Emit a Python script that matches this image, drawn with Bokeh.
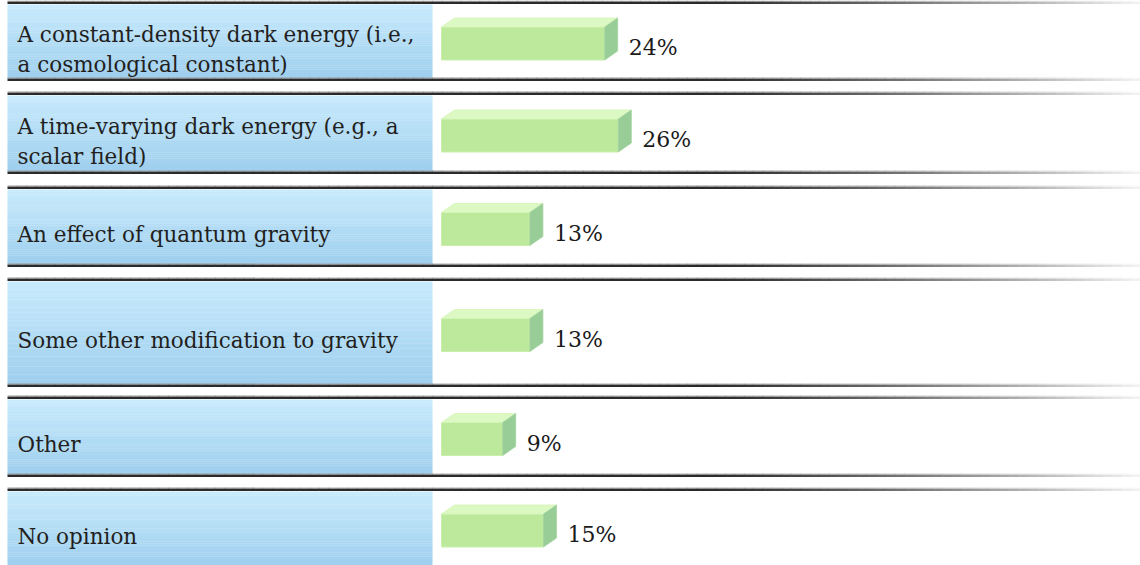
from bokeh.plotting import figure
from bokeh.models import Range1d
from bokeh.embed import file_html
from bokeh.resources import INLINE
from bokeh.core.properties import value
import numpy as np

# ---- data ----
categories = [
    ["A constant-density dark energy (i.e.,", "a cosmological constant)"],
    ["A time-varying dark energy (e.g., a", "scalar field)"],
    ["An effect of quantum gravity"],
    ["Some other modification to gravity"],
    ["Other"],
    ["No opinion"],
]
values = [24, 26, 13, 13, 9, 15]
value_labels = ["24%", "26%", "13%", "13%", "9%", "15%"]

# ---- layout (reference pixel units) ----
W, H = 1140, 565
row_top = [4, 95, 189, 281, 399, 491]
row_bot = [78, 171, 264, 384, 474, 565]
sep_lines = [2, 79, 93, 172, 187, 265, 279, 385, 397, 475, 489]
panel_x0, panel_x1 = 7, 432
bar_x0 = 441
px_per_pct = 6.8
depth_x, depth_y = 13, 9
front_h = 33
FONT = "DejaVu Serif"

def hex2rgb(h):
    h = h.lstrip("#")
    return np.array([int(h[i:i + 2], 16) for i in (0, 2, 4)], dtype=float)

def rgb2hex(c):
    return "#%02x%02x%02x" % tuple(int(round(v)) for v in c)

p = figure(width=W, height=H, output_backend="svg", toolbar_location=None,
           x_range=Range1d(0, W), y_range=Range1d(H, 0), min_border=0,
           background_fill_color="white", border_fill_color="white")
p.extra_x_ranges = {"pct": Range1d((0 - bar_x0) / px_per_pct, (W - bar_x0) / px_per_pct)}
p.axis.visible = False
p.grid.visible = False
p.outline_line_color = None

# ---- label panels with vertical gradient ----
c_top, c_bot = hex2rgb("#c7eafc"), hex2rgb("#9fcfee")
N = 40
L, R, T, B, C = [], [], [], [], []
for t0, b0 in zip(row_top, row_bot):
    edges = np.linspace(t0, b0, N + 1)
    for k in range(N):
        f = k / (N - 1)
        L.append(panel_x0); R.append(panel_x1)
        T.append(edges[k]); B.append(edges[k + 1] + 0.3)
        C.append(rgb2hex(c_top + (c_bot - c_top) * f))
p.quad(left=L, right=R, top=T, bottom=B, fill_color=C, line_color=None)

# ---- separator double lines fading to the right ----
fade_start, fade_end = 700, W
nseg = 120
xs = np.linspace(panel_x0, W, nseg + 1)
mid = (xs[:-1] + xs[1:]) / 2
fr = np.clip((mid - fade_start) / (fade_end - fade_start), 0, 1) ** 1.3
dark, light = hex2rgb("#2a2a2a"), hex2rgb("#f4f4f4")
halo_d, halo_l = hex2rgb("#9a9a9a"), hex2rgb("#fbfbfb")
dark_cols = [rgb2hex(dark + (light - dark) * f) for f in fr]
halo_cols = [rgb2hex(halo_d + (halo_l - halo_d) * f) for f in fr]
for y in sep_lines:
    p.segment(x0=xs[:-1], y0=[y - 1.3] * nseg, x1=xs[1:] + 0.6, y1=[y - 1.3] * nseg,
              line_color=halo_cols, line_width=1.2)
    p.segment(x0=xs[:-1], y0=[y + 0.4] * nseg, x1=xs[1:] + 0.6, y1=[y + 0.4] * nseg,
              line_color=dark_cols, line_width=2.2)

# ---- 3D bars ----
centers = [(t + b) / 2 for t, b in zip(row_top, row_bot)]
dxp = depth_x / px_per_pct
front_top = [c + 2 - front_h / 2 for c in centers]
front_bot = [c + 2 + front_h / 2 for c in centers]
p.quad(left=[0] * len(values), right=values, top=front_top, bottom=front_bot,
       fill_color="#bde99d", line_color="#c9efab", line_width=1, x_range_name="pct")
top_xs, top_ys, side_xs, side_ys = [], [], [], []
for v, ft, fb in zip(values, front_top, front_bot):
    top_xs.append([0, v, v + dxp, dxp])
    top_ys.append([ft, ft, ft - depth_y, ft - depth_y])
    side_xs.append([v, v + dxp, v + dxp, v])
    side_ys.append([ft, ft - depth_y, fb - depth_y, fb])
p.patches(xs=top_xs, ys=top_ys, fill_color="#dcf9c3", line_color="#d3f5b6",
          line_width=0.8, x_range_name="pct")
p.patches(xs=side_xs, ys=side_ys, fill_color="#98cd97", line_color="#a3d3a0",
          line_width=0.8, x_range_name="pct")

# ---- value labels ----
lbl_x = [v + dxp + 11 / px_per_pct for v in values]
lbl_y = [(ft - depth_y + fb) / 2 + 8.5 for ft, fb in zip(front_top, front_bot)]
p.text(x=lbl_x, y=lbl_y, text=value_labels, text_baseline="alphabetic", text_align="left",
       text_font=value(FONT), text_font_size="22px", text_color="#1a1a1a",
       x_range_name="pct")

# ---- category labels ----
tx, ty, tt = [], [], []
line_gap = 30
for lines, c in zip(categories, centers):
    n = len(lines)
    for i, s in enumerate(lines):
        tx.append(17)
        ty.append(c + 7.5 + (i - (n - 1) / 2) * line_gap)
        tt.append(s)
p.text(x=tx, y=ty, text=tt, text_baseline="alphabetic", text_align="left",
       text_font=value(FONT), text_font_size="21.5px", text_color="#231f20")

open("out.html", "w").write(file_html(p, INLINE))
